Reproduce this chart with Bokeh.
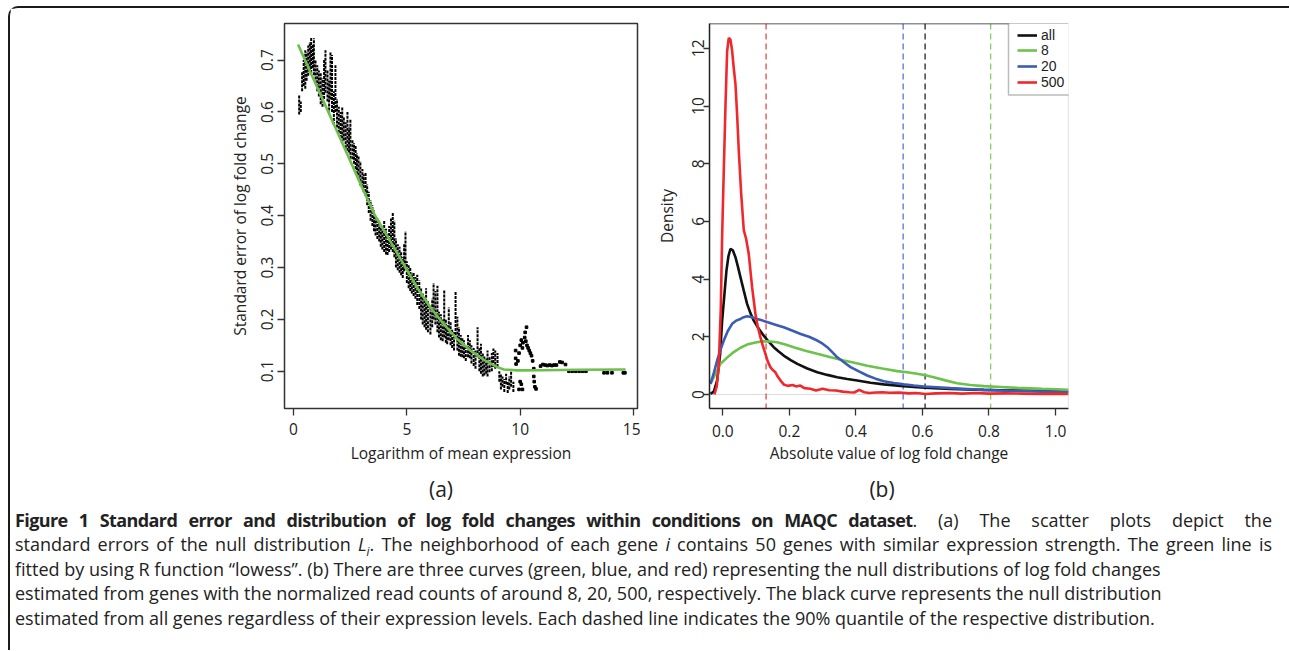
from bokeh.plotting import figure
from bokeh.models import (Range1d, FixedTicker, Span, Legend, LegendItem, Div,
                          PrintfTickFormatter, BoxAnnotation)
from bokeh.layouts import column, row
from bokeh.embed import file_html
from bokeh.resources import INLINE

FONT = "Open Sans"
TXT = "#222222"

# ---------------- Panel (a): standard error vs log mean expression ----------------
# vertical runs of points (x, lowest y, highest y)
streak_x = [0.25,0.32,0.38,0.45,0.52,0.58,0.65,0.72,0.78,0.85,
            0.90,0.97,1.05,1.12,1.20,1.28,1.35,1.41,1.50,1.57,
            1.63,1.70,1.78,1.85,1.92,2.00,2.08,2.15,2.22,2.30,
            2.38,2.45,2.51,2.60,2.67,2.74,2.80,2.87,2.95,3.04,
            3.10,3.18,3.25,3.32,3.40,3.48,3.55,3.62,3.70,3.78,
            3.85,3.92,4.00,4.08,4.15,4.22,4.30,4.38,4.45,4.52,
            4.60,4.68,4.75,4.82,4.88,4.94,5.00,5.08,5.15,5.22,
            5.30,5.38,5.46,5.55,5.63,5.70,5.78,5.85,5.93,6.04,
            6.12,6.18,6.26,6.35,6.42,6.50,6.58,6.65,6.72,6.78,
            6.85,6.93,7.00,7.08,7.15,7.23,7.30,7.38,7.45,7.52,
            7.60,7.70,7.78,7.85,7.95,8.03,8.12,8.20,8.27,8.35,
            8.42,8.50,8.56,8.65,8.75,8.82,8.90,9.00,9.08,9.15,
            9.22,9.30,9.38,9.45,9.52,9.60,9.70]
streak_lo = [0.595,0.600,0.640,0.650,0.645,0.660,0.670,0.680,0.675,0.685,
             0.671,0.655,0.640,0.630,0.615,0.610,0.625,0.637,0.620,0.595,
             0.624,0.600,0.575,0.600,0.570,0.560,0.550,0.541,0.545,0.530,
             0.525,0.522,0.510,0.509,0.500,0.490,0.480,0.470,0.458,0.455,
             0.445,0.438,0.420,0.405,0.390,0.380,0.370,0.362,0.355,0.350,
             0.340,0.335,0.330,0.325,0.324,0.330,0.335,0.330,0.320,0.300,
             0.295,0.290,0.285,0.280,0.293,0.300,0.270,0.260,0.255,0.250,
             0.245,0.240,0.228,0.220,0.200,0.190,0.185,0.180,0.175,0.171,
             0.185,0.200,0.190,0.175,0.165,0.160,0.158,0.165,0.155,0.152,
             0.160,0.150,0.145,0.140,0.170,0.140,0.130,0.128,0.127,0.125,
             0.120,0.127,0.125,0.115,0.110,0.105,0.127,0.100,0.095,0.090,
             0.092,0.095,0.090,0.098,0.100,0.108,0.105,0.108,0.080,0.065,
             0.070,0.060,0.075,0.058,0.065,0.070,0.060]
streak_hi = [0.633,0.620,0.677,0.700,0.719,0.715,0.728,0.735,0.744,0.730,
             0.742,0.700,0.690,0.680,0.675,0.665,0.700,0.719,0.680,0.660,
             0.715,0.710,0.640,0.690,0.625,0.610,0.600,0.610,0.590,0.580,
             0.600,0.570,0.585,0.547,0.540,0.535,0.520,0.515,0.505,0.490,
             0.480,0.484,0.460,0.446,0.430,0.420,0.410,0.400,0.395,0.390,
             0.378,0.380,0.390,0.375,0.365,0.380,0.395,0.405,0.390,0.356,
             0.345,0.340,0.330,0.320,0.345,0.370,0.312,0.305,0.300,0.290,
             0.290,0.282,0.286,0.275,0.260,0.250,0.240,0.260,0.235,0.225,
             0.240,0.270,0.255,0.265,0.215,0.210,0.200,0.257,0.200,0.190,
             0.223,0.195,0.180,0.175,0.255,0.205,0.185,0.170,0.165,0.160,
             0.150,0.170,0.160,0.150,0.145,0.140,0.185,0.145,0.153,0.135,
             0.130,0.125,0.140,0.128,0.135,0.144,0.140,0.135,0.100,0.095,
             0.090,0.085,0.095,0.080,0.090,0.100,0.080]
# isolated points in the high-expression tail
dot_x = [9.80,9.80,9.82,9.90,9.95,10.00,10.05,10.10,10.12,10.20,10.22,10.28,10.25,10.30,
         10.35,10.40,10.45,10.50,10.55,10.60,10.60,10.62,10.65,10.70,10.00,10.05,9.95,10.10,
         10.90,11.00,11.10,11.20,11.30,11.40,11.50,11.60,11.75,11.85,12.00,
         12.15,12.30,12.45,12.60,12.75,12.90,13.70,13.85,14.05,14.55,14.62]
dot_y = [0.140,0.125,0.114,0.120,0.135,0.150,0.160,0.145,0.155,0.165,0.175,0.185,0.158,0.150,
         0.145,0.140,0.135,0.130,0.120,0.105,0.090,0.080,0.070,0.066,0.080,0.075,0.065,0.065,
         0.110,0.113,0.112,0.111,0.112,0.111,0.112,0.112,0.118,0.117,0.113,
         0.100,0.100,0.100,0.100,0.100,0.100,0.097,0.097,0.097,0.097,0.097]
# lowess fit
lowess_x = [0.2,1.0,2.0,3.0,3.6,4.28,4.87,5.46,6.04,6.63,7.22,7.81,8.40,8.99,9.28,9.87,11.0,12.5,14.65]
lowess_y = [0.730,0.652,0.555,0.457,0.400,0.350,0.3055,0.261,0.223,0.191,0.162,0.140,0.122,0.108,0.1035,0.1017,0.102,0.103,0.1035]

a_xticks = [0, 5, 10, 15]
a_yticks = [0.1, 0.2, 0.3, 0.4, 0.5, 0.6, 0.7]

# ---------------- Panel (b): densities of |log fold change| ----------------
all_x = [-0.037,-0.027,-0.017,-0.008,-0.002,0.005,0.011,0.017,0.023,0.030,0.038,0.045,0.053,0.063,0.073,
         0.083,0.093,0.108,0.123,0.138,0.153,0.168,0.183,0.204,0.224,0.254,0.284,0.314,0.344,0.374,
         0.404,0.444,0.484,0.534,0.584,0.634,0.684,0.734,0.784,0.834,0.885,0.960,1.040]
all_y = [0.02,0.10,0.49,1.40,2.56,3.50,4.30,4.80,5.05,5.00,4.76,4.45,4.07,3.60,3.14,
         2.82,2.56,2.28,2.04,1.83,1.64,1.49,1.35,1.19,1.06,0.90,0.77,0.68,0.60,0.54,
         0.485,0.41,0.35,0.30,0.25,0.22,0.195,0.175,0.16,0.15,0.14,0.125,0.11]
g8_x = [-0.037,-0.022,-0.007,0.013,0.033,0.053,0.073,0.098,0.123,0.143,0.163,0.188,0.213,0.248,0.284,
        0.324,0.364,0.399,0.434,0.479,0.524,0.554,0.584,0.609,0.634,0.669,0.704,0.744,0.785,0.835,
        0.885,0.960,1.040]
g8_y = [0.37,0.72,1.06,1.28,1.47,1.62,1.73,1.80,1.85,1.84,1.81,1.73,1.64,1.52,1.41,
        1.29,1.18,1.09,1.00,0.90,0.81,0.77,0.72,0.67,0.60,0.49,0.39,0.33,0.29,0.26,
        0.23,0.195,0.16]
g20_x = [-0.037,-0.027,-0.017,-0.007,0.003,0.015,0.028,0.040,0.053,0.063,0.073,0.088,0.103,0.118,0.133,
         0.158,0.183,0.208,0.234,0.259,0.284,0.300,0.314,0.329,0.344,0.364,0.384,0.409,0.434,0.459,
         0.484,0.514,0.544,0.574,0.604,0.644,0.684,0.735,0.785,0.835,0.885,0.960,1.040]
g20_y = [0.37,0.75,1.18,1.55,1.87,2.20,2.45,2.56,2.62,2.68,2.71,2.68,2.62,2.57,2.51,
         2.42,2.33,2.22,2.10,2.00,1.87,1.76,1.64,1.47,1.29,1.12,0.95,0.80,0.66,0.55,
         0.46,0.40,0.35,0.31,0.28,0.25,0.22,0.19,0.16,0.14,0.12,0.10,0.08]
g500_x = [-0.025,-0.018,-0.012,-0.006,-0.002,0.003,0.008,0.013,0.018,0.023,0.028,0.033,0.038,0.043,0.048,
          0.055,0.063,0.070,0.078,0.088,0.098,0.105,0.113,0.120,0.128,0.135,0.143,0.150,0.158,0.165,
          0.173,0.183,0.195,0.210,0.220,0.233,0.245,0.263,0.280,0.300,0.320,0.340,0.360,0.380,0.395,
          0.410,0.425,0.440,0.460,0.480,0.500,0.530,0.560,0.580,0.610,0.640,0.680,0.720,0.760,0.800,
          0.850,0.900,0.950,1.000,1.040]
g500_y = [0.00,0.30,1.06,3.00,5.50,7.80,10.00,11.90,12.36,12.30,11.92,11.30,10.77,9.70,8.45,
          7.00,5.70,5.40,4.87,3.72,2.80,2.35,1.99,1.70,1.41,1.15,0.95,0.85,0.77,0.62,
          0.49,0.35,0.30,0.33,0.28,0.31,0.22,0.20,0.14,0.20,0.15,0.14,0.10,0.08,0.07,
          0.16,0.08,0.05,0.07,0.08,0.06,0.07,0.04,0.05,0.02,0.04,0.05,0.03,0.05,0.03,
          0.04,0.03,0.02,0.03,0.02]
series_labels = ["all", "8", "20", "500"]
quantile_90 = [0.608, 0.805, 0.542, 0.130]
line_colors = ["#111111", "#6cc24a", "#3b5bb5", "#f0282d"]
dash_colors = ["#222222", "#88cc66", "#5577d0", "#e24a4a"]
b_xticks = [0.0, 0.2, 0.4, 0.6, 0.8, 1.0]
b_yticks = [0, 2, 4, 6, 8, 10, 12]


def style_axis(ax, size="15.5px"):
    ax.major_label_text_font = FONT
    ax.major_label_text_font_size = size
    ax.major_label_text_color = TXT
    ax.axis_label_text_font = FONT
    ax.axis_label_text_font_size = size
    ax.axis_label_text_font_style = "normal"
    ax.axis_label_text_color = TXT
    ax.minor_tick_line_color = None
    ax.major_tick_in = 0
    ax.major_tick_out = 7
    ax.major_tick_line_color = "#333333"
    ax.major_tick_line_width = 1.3


# ---- figure a ----
pa = figure(width=630, height=466, x_range=Range1d(-0.397, 15.176), y_range=Range1d(0.0282, 0.7706),
            output_backend="svg", toolbar_location=None,
            min_border_left=274, min_border_right=3, min_border_top=15, min_border_bottom=62)
pa.xgrid.visible = False
pa.ygrid.visible = False
pa.outline_line_color = "#333333"
pa.outline_line_width = 1.5
pa.segment(x0=streak_x, y0=streak_lo, x1=streak_x, y1=streak_hi,
           line_color="black", line_width=2.0, line_dash="3 1")
pa.scatter(dot_x, dot_y, size=2.6, marker="square", color="black")
pa.line(lowess_x, lowess_y, line_color="#6cbf4a", line_width=2.6)
pa.xaxis.ticker = FixedTicker(ticks=a_xticks)
pa.yaxis.ticker = FixedTicker(ticks=a_yticks)
pa.xaxis.axis_label = "Logarithm of mean expression"
pa.yaxis.axis_label = "Standard error of log fold change"
for ax in (pa.xaxis[0], pa.yaxis[0]):
    style_axis(ax)
    ax.axis_line_color = None
pa.yaxis.major_label_orientation = "vertical"
pa.xaxis.major_label_standoff = 7
pa.xaxis.axis_label_standoff = 4
pa.yaxis.major_label_standoff = 4
pa.yaxis.axis_label_standoff = 8

# ---- figure b ----
pb = figure(width=429, height=466, x_range=Range1d(-0.04, 1.039), y_range=Range1d(-0.485, 12.86),
            output_backend="svg", toolbar_location=None,
            min_border_left=69, min_border_right=1, min_border_top=15, min_border_bottom=66)
pb.xgrid.visible = False
pb.ygrid.visible = False
pb.outline_line_color = None
pb.add_layout(Span(location=0, dimension="width", line_color="#dddddd", line_width=1, level="underlay"))
for q, c in zip(quantile_90, dash_colors):
    pb.add_layout(Span(location=q, dimension="height", line_color=c, line_width=1.3,
                       line_dash="6 4", level="underlay"))
renderers = []
for xs, ys, c in zip([all_x, g8_x, g20_x, g500_x], [all_y, g8_y, g20_y, g500_y], line_colors):
    renderers.append(pb.line(xs, ys, line_color=c, line_width=2.6))
pb.add_layout(Span(location=12.86, dimension="width", line_color="#222222", line_width=1.5))
pb.add_layout(Span(location=1.039, dimension="height", line_color="#cccccc", line_width=1.2))
pb.xaxis.ticker = FixedTicker(ticks=b_xticks)
pb.yaxis.ticker = FixedTicker(ticks=b_yticks)
pb.xaxis.formatter = PrintfTickFormatter(format="%.1f")
pb.xaxis.axis_label = "Absolute value of log fold change"
pb.yaxis.axis_label = "Density"
for ax in (pb.xaxis[0], pb.yaxis[0]):
    style_axis(ax)
    ax.axis_line_color = "#222222"
    ax.axis_line_width = 1.5
pb.yaxis.major_label_orientation = "vertical"
pb.yaxis.major_tick_out = 6
pb.xaxis.major_label_standoff = 9
pb.xaxis.axis_label_standoff = 2
pb.yaxis.major_label_standoff = -1
pb.yaxis.axis_label_standoff = 12

# legend: a framed box (screen units, relative to the frame) holding one row per series
pb.add_layout(BoxAnnotation(left=299, right=420, bottom=313.5, top=392,
                            left_units="screen", right_units="screen",
                            bottom_units="screen", top_units="screen",
                            fill_color="white", fill_alpha=1.0,
                            line_color="#222222", line_width=1.5))
row_bottoms = [361.5, 345.8, 330.1, 314.4]
for lab, r, yb in zip(series_labels, renderers, row_bottoms):
    pb.add_layout(Legend(items=[LegendItem(label=lab, renderers=[r])], location=(308, yb),
                         border_line_color=None, background_fill_alpha=0.0,
                         label_text_font="Liberation Sans", label_text_font_size="14px",
                         label_text_color=TXT,
                         glyph_width=20, glyph_height=24, label_height=24, spacing=0,
                         padding=0, margin=0, label_standoff=4))

# ---- caption ----
caption = (
    "<div style=\"font-family:'Open Sans',sans-serif;color:#222;font-size:18px;line-height:24.4px;"
    "width:1262px;padding-left:5px;\">"
    "<div style='position:relative;height:34px;font-size:21px;'>"
    "<span style='position:absolute;left:426px;top:1px;transform:translateX(-50%);line-height:28px;'>(a)</span>"
    "<span style='position:absolute;left:867px;top:1px;transform:translateX(-50%);line-height:28px;'>(b)</span>"
    "</div>"
    "<div style='text-align:justify;text-align-last:justify;'>"
    "<b style='letter-spacing:-0.6px;'>Figure 1 Standard error and distribution "
    "of log fold changes within conditions on MAQC dataset</b>"
    "<span style='word-spacing:9px;'>. (a) The scatter plots depict the</span></div>"
    "<div style='text-align:justify;text-align-last:justify;'>standard errors of the null distribution "
    "<i>L</i><sub style='font-size:65%;line-height:0;'><i>i</i></sub>. The neighborhood of each gene <i>i</i> "
    "contains 50 genes with similar expression strength. The green line is</div>"
    "<div>fitted by using R function \u201clowess\u201d. (b) There are three curves (green, blue, and red) "
    "representing the null distributions of log fold changes</div>"
    "<div>estimated from genes with the normalized read counts of around 8, 20, 500, respectively. "
    "The black curve represents the null distribution</div>"
    "<div>estimated from all genes regardless of their expression levels. Each dashed line indicates "
    "the 90% quantile of the respective distribution.</div>"
    "</div>"
)
cap = Div(text=caption, width=1279, height=176, margin=0)

layout = column(row(pa, pb), cap, margin=(6, 0, 0, 8),
                styles={"border-top": "2px solid #1c1c1c", "border-left": "2px solid #1c1c1c",
                        "border-top-left-radius": "10px"})

open("out.html", "w").write(file_html(layout, INLINE))
